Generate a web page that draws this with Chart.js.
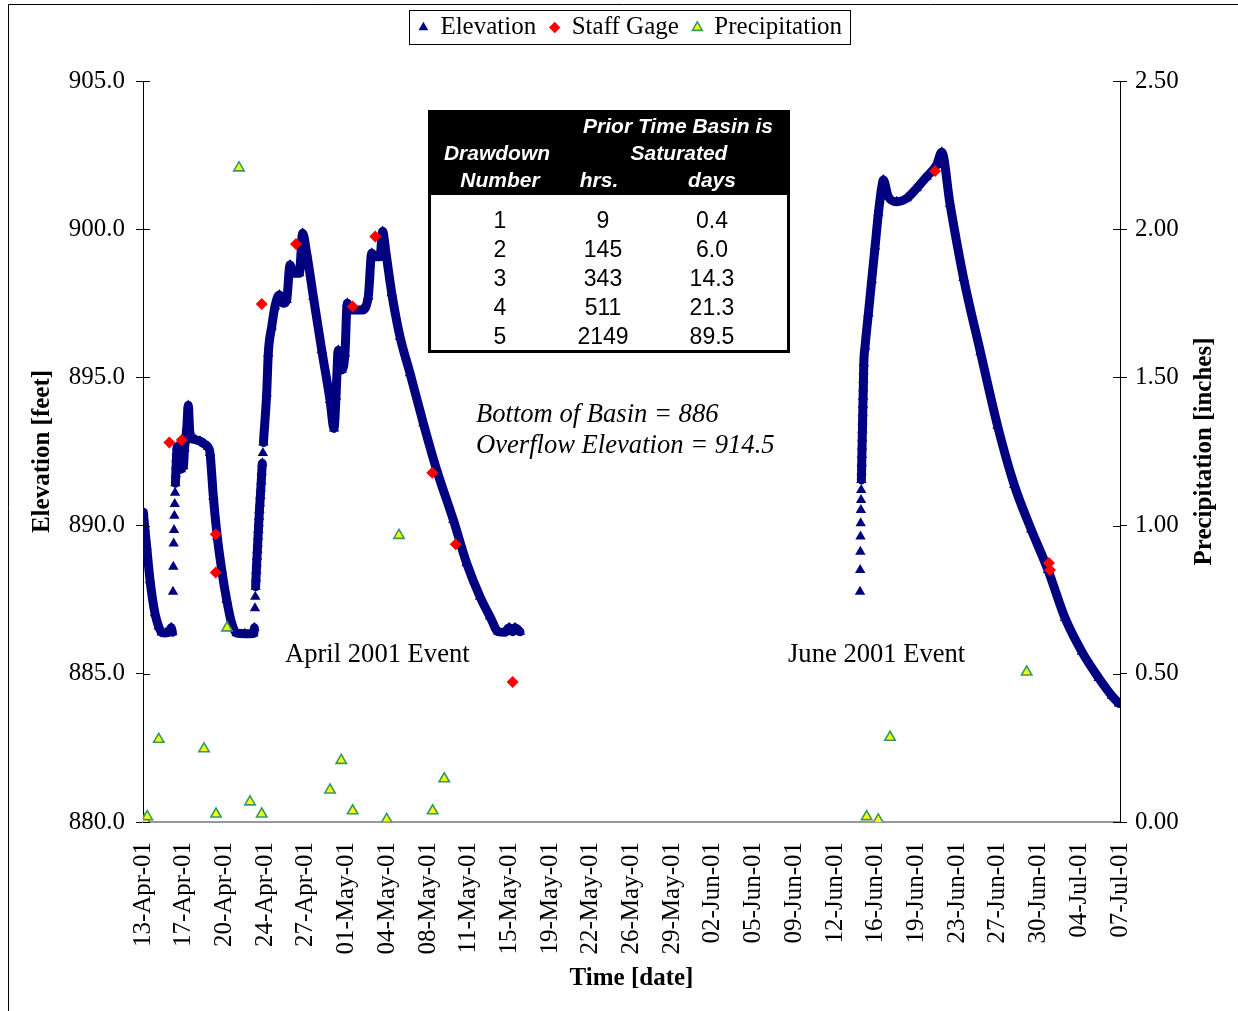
<!DOCTYPE html>
<html>
<head>
<meta charset="utf-8">
<title>Basin elevation, staff gage and precipitation</title>
<script src="https://cdn.jsdelivr.net/npm/chart.js@4.4.1/dist/chart.umd.min.js"></script>
<style>
  html, body { margin: 0; padding: 0; background: #fff; }
</style>
</head>
<body>
<canvas id="chart" width="1238" height="1011"></canvas>
<script>
// x values are days counted from 31-Mar-2001 (13 = 13-Apr-01, 31 = 01-May-01, 62 = 01-Jun-01, 92 = 01-Jul-01)
var xTickLabels = ['13-Apr-01', '17-Apr-01', '20-Apr-01', '24-Apr-01', '27-Apr-01', '01-May-01', '04-May-01',
  '08-May-01', '11-May-01', '15-May-01', '19-May-01', '22-May-01', '26-May-01', '29-May-01', '02-Jun-01',
  '05-Jun-01', '09-Jun-01', '12-Jun-01', '16-Jun-01', '19-Jun-01', '23-Jun-01', '27-Jun-01', '30-Jun-01',
  '04-Jul-01', '07-Jul-01'];
var xMin = 13.64, xMax = 98.64;

// April 2001 event - basin elevation (feet)
var elevAprDays = [13.67, 13.80, 13.96, 14.25, 14.68, 15.00, 15.27, 15.60, 15.90, 16.10, 16.20,
  16.25, 16.28, 16.31, 16.34, 16.37, 16.40, 16.43, 16.46, 16.49, 16.52, 16.55, 16.58, 16.61,
  16.85, 16.95, 17.05, 17.15, 17.25, 17.35, 17.45, 17.58, 17.70, 17.85, 18.20, 18.60, 19.00, 19.30,
  19.47, 19.76, 20.10, 20.49, 20.92, 21.36, 21.79, 22.50, 23.24, 23.33,
  23.38, 23.41, 23.44, 23.47, 23.50, 23.53, 23.56, 23.59, 23.62, 23.65, 23.68, 23.71, 23.74, 23.77,
  23.81, 23.85, 23.89, 23.93, 23.97, 24.02, 24.07, 24.12,
  24.40, 24.54, 24.84, 25.12, 25.50, 25.85, 26.14, 26.43, 26.72, 27.24, 27.53, 27.88, 28.46, 29.19,
  29.91, 30.26, 30.43, 30.63, 30.93, 31.21, 31.41, 31.65, 32.67, 33.24, 33.54, 33.82, 34.26, 34.49,
  34.78, 35.28, 36.00, 36.87, 38.03, 39.19, 40.64, 41.80, 42.96, 43.83, 44.55, 45.10, 45.50, 45.80,
  46.00, 46.44];
var elevAprFeet = [890.45, 889.90, 889.29, 888.16, 887.04, 886.60, 886.39, 886.38, 886.40, 886.55, 886.40,
  887.77, 888.61, 889.40, 889.85, 890.33, 890.73, 891.11, 891.43, 891.73, 892.01, 892.27, 892.49, 892.66,
  892.20, 891.90, 892.40, 892.00, 892.60, 892.90, 893.30, 894.05, 893.20, 892.95, 892.90, 892.85, 892.75, 892.65,
  892.45, 890.98, 889.63, 888.50, 887.49, 886.70, 886.37, 886.35, 886.36, 886.55,
  887.21, 887.60, 887.94, 888.22, 888.48, 888.73, 888.95, 889.18, 889.40, 889.63, 889.85, 890.08, 890.30, 890.53,
  890.75, 891.00, 891.25, 891.50, 891.80, 892.10, 892.45, 892.80,
  894.46, 895.81, 896.71, 897.39, 897.78, 897.50, 897.61, 898.79, 898.51, 898.51, 899.86, 899.19, 897.72, 895.92,
  894.24, 893.28, 894.35, 895.92, 895.25, 895.81, 897.50, 897.27, 897.27, 897.72, 899.19, 899.07, 899.07, 899.92,
  899.19, 897.84, 896.37, 895.14, 893.45, 891.88, 890.19, 888.73, 887.60, 886.93, 886.42, 886.40, 886.55, 886.42,
  886.55, 886.42];

// June 2001 event - basin elevation (feet)
var elevJunDays = [76.02, 76.035, 76.05, 76.065, 76.08, 76.095, 76.11, 76.125, 76.14, 76.155, 76.17, 76.185,
  76.20, 76.215, 76.23, 76.245, 76.26, 76.275, 76.29, 76.305, 76.32, 76.335, 76.35,
  76.46, 76.75, 77.04, 77.33, 77.62, 77.90, 78.05, 78.48, 79.21, 80.08, 80.95, 81.82, 82.69, 83.13,
  83.85, 85.03, 86.50, 87.99, 89.44, 90.91, 92.38, 93.86, 95.33, 96.79, 97.95, 98.55];
var elevJunFeet = [887.77, 888.50, 889.12, 889.63, 890.08, 890.53, 890.86, 891.20, 891.54, 891.82, 892.10, 892.38,
  892.66, 892.95, 893.23, 893.51, 893.79, 894.07, 894.35, 894.63, 894.91, 895.20, 895.48,
  896.04, 897.16, 898.29, 899.41, 900.54, 901.38, 901.66, 901.10, 900.93, 901.04, 901.38, 901.77, 902.17, 902.60,
  900.85, 898.35, 895.85, 893.36, 891.37, 889.87, 888.50, 886.88, 885.74, 884.86, 884.25, 884.00];

// staff gage readings (feet)
var gageDays = [15.93, 17.01, 19.97, 19.97, 23.97, 26.95, 31.88, 33.85, 38.81, 40.85, 45.80, 82.55, 92.46, 92.55];
var gageFeet = [892.80, 892.89, 889.71, 888.42, 897.48, 899.50, 897.39, 899.75, 891.78, 889.37, 884.72, 901.96, 888.74, 888.50];

// daily precipitation (inches)
var precipDays = [13.81, 14.01, 15.01, 18.95, 19.99, 20.95, 21.99, 22.95, 23.97, 29.91, 30.89, 31.88,
  34.84, 35.91, 38.84, 39.85, 76.60, 77.61, 78.63, 90.52];
var precipInches = [0.007, 0.018, 0.279, 0.247, 0.027, 0.655, 2.207, 0.068, 0.027, 0.108, 0.208, 0.038,
  0.009, 0.967, 0.038, 0.146, 0.018, 0.007, 0.286, 0.506];

// drawdown table
var drawdownNumber = ['1', '2', '3', '4', '5'];
var hoursSaturated = ['9', '145', '343', '511', '2149'];
var daysSaturated = ['0.4', '6.0', '14.3', '21.3', '89.5'];

var SERIF = '"Liberation Serif", "Times New Roman", serif';
var SANS = '"Liberation Sans", Arial, sans-serif';
var NAVY = '#000080';

function pairs(xs, ys) {
  return xs.map(function (x, i) { return {x: x, y: ys[i]}; });
}
var elevPoints = pairs(elevAprDays, elevAprFeet).concat([{x: 60, y: null}], pairs(elevJunDays, elevJunFeet));

var decorPlugin = {
  id: 'decor',
  beforeInit: function (chart) {
    var lg = chart.legend;
    if (lg) {
      var fit = lg.fit;
      lg.fit = function () { fit.call(this); this.height = 80; };
    }
  },
  afterDraw: function (chart) {
    var ctx = chart.ctx, area = chart.chartArea;
    var yE = chart.scales.yElev, yP = chart.scales.yPrecip;
    ctx.save();

    // frame of the chart object
    ctx.strokeStyle = '#000';
    ctx.lineWidth = 1;
    ctx.beginPath();
    ctx.moveTo(8.5, chart.height);
    ctx.lineTo(8.5, 4.5);
    ctx.lineTo(chart.width, 4.5);
    ctx.stroke();

    // tick marks cross the axes
    ctx.beginPath();
    yE.ticks.forEach(function (t) {
      var py = Math.round(yE.getPixelForValue(t.value)) + 0.5;
      ctx.moveTo(area.left, py); ctx.lineTo(area.left + 7, py);
    });
    yP.ticks.forEach(function (t) {
      var py = Math.round(yP.getPixelForValue(t.value)) + 0.5;
      ctx.moveTo(area.right, py); ctx.lineTo(area.right - 7, py);
    });
    ctx.stroke();

    // legend box
    var hb = chart.legend.legendHitBoxes;
    if (hb && hb.length) {
      var first = hb[0], last = hb[hb.length - 1];
      var cy = first.top + first.height / 2;
      ctx.strokeRect(Math.round(first.left) - 9.5, Math.round(cy) - 17.5,
        Math.round(last.left + last.width - first.left) + 18, 34);
    }

    // right axis title, read bottom to top
    ctx.fillStyle = '#000';
    ctx.font = 'bold 25px ' + SERIF;
    ctx.textAlign = 'center';
    ctx.textBaseline = 'middle';
    ctx.translate(yP.right - 33, (area.top + area.bottom) / 2);
    ctx.rotate(-Math.PI / 2);
    ctx.fillText('Precipitation [inches]', 0, 0);
    ctx.setTransform(1, 0, 0, 1, 0, 0);

    // notes
    ctx.textAlign = 'left';
    ctx.font = 'italic 26.6px ' + SERIF;
    ctx.fillText('Bottom of Basin = 886', 476, 415);
    ctx.fillText('Overflow Elevation = 914.5', 476, 446);
    ctx.font = '26.6px ' + SERIF;
    ctx.fillText('April 2001 Event', 285, 655);
    ctx.fillText('June 2001 Event', 788, 655);

    // drawdown table
    var tx = 428, ty = 110;
    ctx.fillStyle = '#000';
    ctx.fillRect(tx, ty, 362, 243);
    ctx.fillStyle = '#fff';
    ctx.fillRect(tx + 3, ty + 85, 356, 155);
    ctx.textAlign = 'center';
    ctx.font = 'italic bold 21px ' + SANS;
    ctx.fillText('Prior Time Basin is', tx + 250, ty + 17);
    ctx.fillText('Drawdown', tx + 69, ty + 44);
    ctx.fillText('Saturated', tx + 251, ty + 44);
    ctx.fillText('Number', tx + 72, ty + 71);
    ctx.fillText('hrs.', tx + 171, ty + 71);
    ctx.fillText('days', tx + 284, ty + 71);
    ctx.fillStyle = '#000';
    ctx.font = '23px ' + SANS;
    for (var i = 0; i < drawdownNumber.length; i++) {
      var ry = ty + 112 + i * 28.8;
      ctx.fillText(drawdownNumber[i], tx + 72, ry);
      ctx.fillText(hoursSaturated[i], tx + 175, ry);
      ctx.fillText(daysSaturated[i], tx + 284, ry);
    }
    ctx.restore();
  }
};

new Chart(document.getElementById('chart'), {
  type: 'scatter',
  data: {
    datasets: [
      {
        label: 'Elevation',
        data: elevPoints,
        yAxisID: 'yElev',
        showLine: true,
        spanGaps: false,
        cubicInterpolationMode: 'monotone',
        borderColor: NAVY,
        borderWidth: 9,
        borderJoinStyle: 'round',
        borderCapStyle: 'round',
        backgroundColor: NAVY,
        pointStyle: 'triangle',
        pointRadius: 6,
        pointBorderWidth: 0,
        pointBackgroundColor: NAVY,
        order: 3,
        segment: {
          // separate readings during fast rises show as single triangles
          borderColor: function (c) {
            var dx = c.p1.parsed.x - c.p0.parsed.x;
            var dy = Math.abs(c.p1.y - c.p0.y);
            return (dx < 0.06 && dy > 9) ? 'rgba(0,0,0,0)' : undefined;
          }
        }
      },
      {
        label: 'Staff Gage',
        data: pairs(gageDays, gageFeet),
        yAxisID: 'yElev',
        pointStyle: 'rectRot',
        pointRadius: 6,
        pointBorderWidth: 0,
        pointBackgroundColor: '#FF0000',
        backgroundColor: '#FF0000',
        borderColor: '#FF0000',
        order: 1
      },
      {
        label: 'Precipitation',
        data: pairs(precipDays, precipInches),
        yAxisID: 'yPrecip',
        pointStyle: 'triangle',
        pointRadius: 6,
        pointBorderWidth: 1.6,
        pointBackgroundColor: '#FFFF00',
        pointBorderColor: '#339966',
        backgroundColor: '#FFFF00',
        borderColor: '#339966',
        order: 2
      }
    ]
  },
  options: {
    responsive: false,
    animation: false,
    events: [],
    devicePixelRatio: 1,
    layout: { padding: { top: 1, left: 23, right: 0, bottom: 0 } },
    plugins: {
      tooltip: { enabled: false },
      legend: {
        position: 'top',
        labels: {
          usePointStyle: true,
          boxWidth: 9,
          boxHeight: 8,
          padding: 14,
          color: '#000',
          font: { family: SERIF, size: 25 },
          sort: function (a, b) { return a.datasetIndex - b.datasetIndex; }
        }
      }
    },
    scales: {
      x: {
        type: 'linear',
        position: 'bottom',
        min: xMin,
        max: xMax,
        afterBuildTicks: function (scale) {
          var n = xTickLabels.length;
          scale.ticks = xTickLabels.map(function (l, i) {
            return { value: scale.min + i * (scale.max - scale.min) / (n - 1) };
          });
        },
        afterFit: function (scale) { scale.height = 189; },
        ticks: {
          autoSkip: false,
          minRotation: 90,
          maxRotation: 90,
          padding: 20,
          color: '#000',
          font: { family: SERIF, size: 25 },
          callback: function (v, i) { return xTickLabels[i]; }
        },
        grid: { drawOnChartArea: false, drawTicks: false },
        border: { color: '#999999', width: 2 },
        title: {
          display: true,
          text: 'Time [date]',
          color: '#000',
          font: { family: SERIF, size: 25, weight: 'bold' },
          padding: { top: 0, bottom: 17 }
        }
      },
      yElev: {
        type: 'linear',
        position: 'left',
        min: 880,
        max: 905,
        afterFit: function (scale) { scale.width = 120; },
        ticks: {
          stepSize: 5,
          padding: 11,
          color: '#000',
          font: { family: SERIF, size: 25 },
          callback: function (v) { return v.toFixed(1); }
        },
        grid: { drawOnChartArea: false, tickLength: 7, color: '#000', tickColor: '#000' },
        border: { color: '#000', width: 1 },
        title: {
          display: true,
          text: 'Elevation [feet]',
          color: '#000',
          font: { family: SERIF, size: 25, weight: 'bold' },
          padding: { top: 5, bottom: 0 }
        }
      },
      yPrecip: {
        type: 'linear',
        position: 'right',
        min: 0,
        max: 2.5,
        afterFit: function (scale) { scale.width = 118; },
        ticks: {
          stepSize: 0.5,
          padding: 8,
          color: '#000',
          font: { family: SERIF, size: 25 },
          callback: function (v) { return v.toFixed(2); }
        },
        grid: { drawOnChartArea: false, tickLength: 7, color: '#000', tickColor: '#000' },
        border: { color: '#000', width: 1 }
      }
    }
  },
  plugins: [decorPlugin]
});
</script>
</body>
</html>
